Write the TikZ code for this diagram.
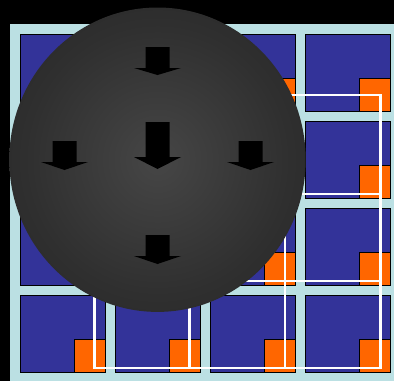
\documentclass[tikz,border=0pt]{standalone}
\usetikzlibrary{calc}

\definecolor{boardbg}{RGB}{187,224,227}
\definecolor{cellblue}{RGB}{51,51,153}
\definecolor{cellorange}{RGB}{255,102,0}
\definecolor{spherein}{RGB}{70,70,70}
\definecolor{sphereout}{RGB}{29,29,29}
\pgfdeclareradialshading{spherefill}{\pgfpointorigin}{%
  color(0bp)=(spherein); color(22bp)=(spherein!45!sphereout);
  color(40bp)=(spherein!12!sphereout); color(50bp)=(sphereout)}

\begin{document}
\begin{tikzpicture}[
  x=1pt, y=-1pt,
  cellbox/.style={fill=cellblue, draw=black, line width=0.9pt},
  cellmark/.style={fill=cellorange, draw=black, line width=0.9pt},
  window/.style={draw=white, line width=2.8pt, line cap=rect},
]
  \useasboundingbox (0,0) rectangle (394,381);
  \fill[black] (0,0) rectangle (394,381);
  \fill[boardbg] (10,24) rectangle (394,381);

  % 4x4 board of cells
  \foreach \i in {0,...,3}
    \foreach \j in {0,...,3} {
      \filldraw[cellbox] ({20+95.3*\i},{34+87.3*\j}) rectangle ++(85,77);
      \filldraw[cellmark] ({74+95.3*\i},{78+87.3*\j}) rectangle ++(31,33);
    }

  % white windows
  \foreach \x in {94.5,189.5,285,380.5} \draw[window] (\x,95) -- (\x,368);
  \foreach \y in {95,194,281,368} \draw[window] (94.5,\y) -- (380.5,\y);

  % sphere
  \shade[shading=spherefill] (157.5,159.7) ellipse [x radius=148.2pt, y radius=152.2pt];

  % arrows pushing down
  \foreach \cx/\ty/\sy/\tip in {157.5/47/68/75, 64.5/141/162/170,
      250.5/141/162/170, 157.5/122/157/169, 157.5/235/256/264}
    \fill[black] (\cx-12,\ty) -- (\cx+12,\ty) -- (\cx+12,\sy) -- (\cx+23.5,\sy)
      -- (\cx,\tip) -- (\cx-23.5,\sy) -- (\cx-12,\sy) -- cycle;
\end{tikzpicture}
\end{document}
